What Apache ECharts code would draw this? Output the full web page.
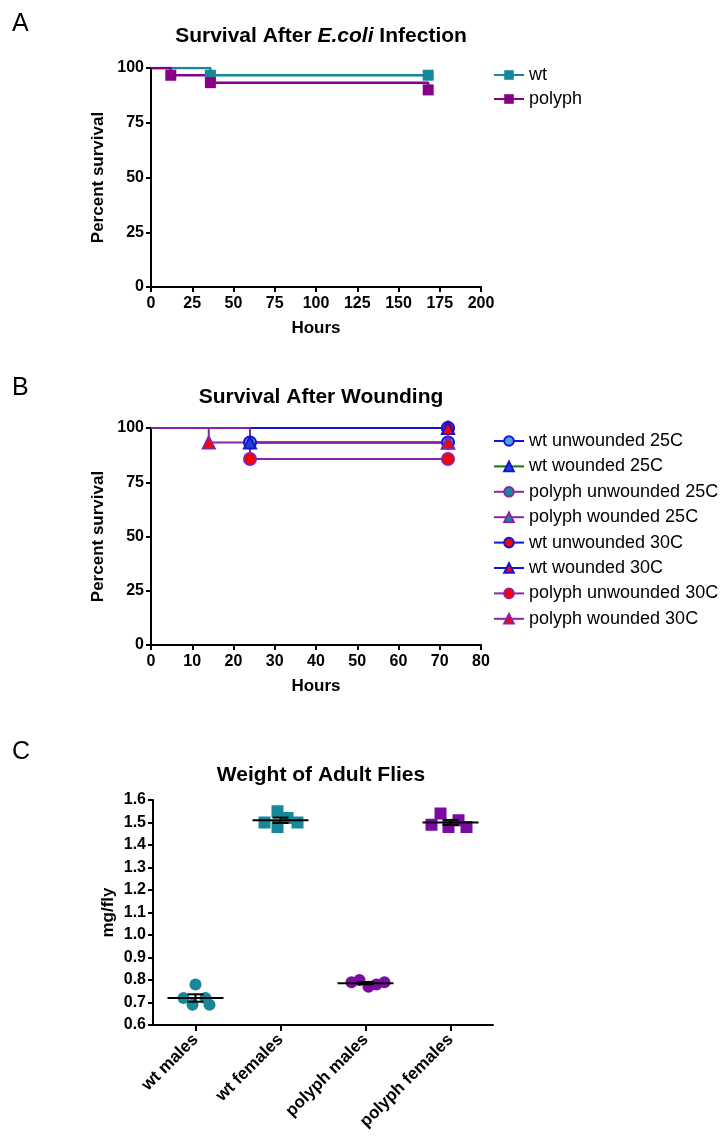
<!DOCTYPE html>
<html>
<head>
<meta charset="utf-8">
<script src="https://cdn.jsdelivr.net/npm/echarts@6/dist/echarts.min.js"></script>
<style>
  html, body { margin: 0; padding: 0; background: #fff; }
  #chart { width: 725px; height: 1137px; }
</style>
</head>
<body>
<div id="chart"></div>
<script>
'use strict';

// Panel A: survival after E.coli infection (hours, percent)
const aNames = ['wt', 'polyph'];
const aTimes = [[0, 36, 168], [0, 12, 36, 168]];
const aSurvival = [[100, 96.7, 96.7], [100, 96.7, 93.3, 90]];

// Panel B: survival after wounding
const bNames = [
  'wt unwounded 25C', 'wt wounded 25C', 'polyph unwounded 25C', 'polyph wounded 25C',
  'wt unwounded 30C', 'wt wounded 30C', 'polyph unwounded 30C', 'polyph wounded 30C'
];
const bTimes = [[0, 24, 72], [0, 24, 72], [0, 72], [0, 72], [0, 72], [0, 72], [0, 24, 72], [0, 14, 72]];
const bSurvival = [
  [100, 93.3, 93.3], [100, 93.3, 93.3], [100, 100], [100, 100],
  [100, 100], [100, 100], [100, 85.7, 85.7], [100, 93.3, 93.3]
];

// Panel C: weight of adult flies (mg/fly)
const groups = ['wt males', 'wt females', 'polyph males', 'polyph females'];
const wtMales = [0.78, 0.72, 0.72, 0.69, 0.69];
const wtFemales = [1.50, 1.55, 1.48, 1.52, 1.50];
const polyphMales = [0.79, 0.80, 0.77, 0.78, 0.79];
const polyphFemales = [1.49, 1.54, 1.48, 1.51, 1.48];
const weights = [wtMales, wtFemales, polyphMales, polyphFemales];

// styles
const FONT = 'Liberation Sans';
const TEAL = '#17879a';
const PURPLE_A = '#870087';
const PURPLE_C = '#7a0ca2';
const BLUE = '#1414d2';
const GREEN = '#0a7a0a';
const PURPLE_B = '#8c22aa';
const RED = '#ff0000';
const LIGHTBLUE = '#4f9fe0';

const bStyle = [
  {line: BLUE, fill: LIGHTBLUE, border: BLUE, symbol: 'circle'},
  {line: GREEN, fill: '#2244cc', border: BLUE, symbol: 'triangle'},
  {line: PURPLE_B, fill: TEAL, border: PURPLE_B, symbol: 'circle'},
  {line: PURPLE_B, fill: TEAL, border: PURPLE_B, symbol: 'triangle'},
  {line: BLUE, fill: RED, border: BLUE, symbol: 'circle'},
  {line: BLUE, fill: RED, border: BLUE, symbol: 'triangle'},
  {line: PURPLE_B, fill: RED, border: PURPLE_B, symbol: 'circle'},
  {line: PURPLE_B, fill: RED, border: PURPLE_B, symbol: 'triangle'}
];
// horizontal spread of the dots in each column (px)
const spread = [[0, -12, 10, -3, 14], [-16, -3, -3, 7, 17], [-14, -6, 3, 11, 19], [-19, -10, -2, 8, 16]];

const axisLine = {show: true, lineStyle: {color: '#000', width: 2}};
const axisTick = {show: true, length: 5, lineStyle: {color: '#000', width: 2}};
const tickFont = {color: '#000', fontFamily: FONT, fontWeight: 'bold', fontSize: 16};
const nameFont = {color: '#000', fontFamily: FONT, fontWeight: 'bold', fontSize: 17};
const legendFont = {fontFamily: FONT, fontSize: 18, color: '#000'};

function steps(times, vals) {
  return times.map((t, i) => i === 0 ? {value: [t, vals[i]], symbol: 'none'} : [t, vals[i]]);
}
const mean = a => a.reduce((s, v) => s + v, 0) / a.length;
const sem = a => {
  const m = mean(a);
  return Math.sqrt(a.reduce((s, v) => s + (v - m) * (v - m), 0) / (a.length - 1)) / Math.sqrt(a.length);
};

const series = [];
aNames.forEach((n, i) => {
  const c = i === 0 ? TEAL : PURPLE_A;
  series.push({
    name: n, type: 'line', step: 'end', xAxisIndex: 0, yAxisIndex: 0,
    data: steps(aTimes[i], aSurvival[i]),
    symbol: 'rect', symbolSize: 11, showAllSymbol: true,
    lineStyle: {color: c, width: 2.5}, itemStyle: {color: c}
  });
});
bNames.forEach((n, i) => {
  const s = bStyle[i];
  series.push({
    name: n, type: 'line', step: 'end', xAxisIndex: 1, yAxisIndex: 1,
    data: steps(bTimes[i], bSurvival[i]),
    symbol: s.symbol, symbolSize: 12, showAllSymbol: true,
    lineStyle: {color: s.line, width: 2},
    itemStyle: {color: s.fill, borderColor: s.border, borderWidth: 2}
  });
});
weights.forEach((vals, g) => {
  series.push({
    name: groups[g], type: 'scatter', xAxisIndex: 2, yAxisIndex: 2,
    symbol: g % 2 === 0 ? 'circle' : 'rect', symbolSize: 12,
    itemStyle: {color: g < 2 ? TEAL : PURPLE_C, opacity: 1},
    data: vals.map((v, k) => ({value: [g, v], symbolOffset: [spread[g][k], 0]}))
  });
});
series.push({
  name: 'mean', type: 'custom', xAxisIndex: 2, yAxisIndex: 2, z: 5,
  data: weights.map((vals, g) => [g, mean(vals), sem(vals)]),
  renderItem: (params, api) => {
    const g = api.value(0), m = api.value(1), e = api.value(2);
    const c = api.coord([g, m]);
    const hi = api.coord([g, m + e]), lo = api.coord([g, m - e]);
    const st = {stroke: '#000', lineWidth: 2};
    return {type: 'group', children: [
      {type: 'line', shape: {x1: c[0] - 28, y1: c[1], x2: c[0] + 28, y2: c[1]}, style: st},
      {type: 'line', shape: {x1: c[0], y1: hi[1], x2: c[0], y2: lo[1]}, style: st},
      {type: 'line', shape: {x1: c[0] - 8, y1: hi[1], x2: c[0] + 8, y2: hi[1]}, style: st},
      {type: 'line', shape: {x1: c[0] - 8, y1: lo[1], x2: c[0] + 8, y2: lo[1]}, style: st}
    ]};
  }
});

const letter = (t, top) => ({text: t, left: 7, top: top,
  textStyle: {fontFamily: FONT, fontWeight: 'normal', fontSize: 25, color: '#000'}});
const heading = (t, top) => ({text: t, left: 316, top: top, textAlign: 'center',
  textStyle: {fontFamily: FONT, fontWeight: 'bold', fontSize: 21, color: '#000',
    rich: {i: {fontFamily: FONT, fontWeight: 'bold', fontStyle: 'italic', fontSize: 21, color: '#000'}}}});

const valueX = (idx, max, step) => ({
  type: 'value', gridIndex: idx, min: 0, max: max, interval: step,
  name: 'Hours', nameLocation: 'middle', nameGap: 33, nameTextStyle: nameFont,
  axisLine: axisLine, axisTick: axisTick, splitLine: {show: false},
  axisLabel: Object.assign({margin: 9}, tickFont)
});
const percentY = idx => ({
  type: 'value', gridIndex: idx, min: 0, max: 100, interval: 25,
  name: 'Percent survival', nameLocation: 'middle', nameGap: 44, nameTextStyle: nameFont,
  axisLine: axisLine, axisTick: axisTick, splitLine: {show: false},
  axisLabel: Object.assign({margin: 7}, tickFont)
});

const chart = echarts.init(document.getElementById('chart'), null, {renderer: 'canvas'});
chart.setOption({
  animation: false,
  backgroundColor: '#fff',
  title: [
    letter('A', 7), letter('B', 371), letter('C', 735),
    heading('Survival After {i|E.coli} Infection', 21),
    heading('Survival After Wounding', 382),
    heading('Weight of Adult Flies', 760)
  ],
  legend: [
    {data: aNames, left: 493, top: 66, orient: 'vertical', itemWidth: 30, itemHeight: 12, itemGap: 6,
      padding: 0, textStyle: legendFont},
    {data: bNames, left: 493, top: 432, orient: 'vertical', itemWidth: 30, itemHeight: 12, itemGap: 7.4,
      padding: 0, textStyle: legendFont}
  ],
  grid: [
    {left: 151, top: 68, width: 330, height: 219},
    {left: 151, top: 428, width: 330, height: 217},
    {left: 153, top: 800, width: 340, height: 225}
  ],
  xAxis: [
    valueX(0, 200, 25),
    valueX(1, 80, 10),
    {type: 'category', gridIndex: 2, data: groups, boundaryGap: true,
      axisLine: axisLine, axisTick: Object.assign({alignWithLabel: true}, axisTick, {length: 6}),
      axisLabel: Object.assign({rotate: 45, interval: 0, margin: 12}, tickFont, {fontSize: 17})}
  ],
  yAxis: [
    percentY(0),
    percentY(1),
    {type: 'value', gridIndex: 2, min: 0.6, max: 1.6, interval: 0.1,
      name: 'mg/fly', nameLocation: 'middle', nameGap: 36, nameTextStyle: nameFont,
      axisLine: axisLine, axisTick: axisTick, splitLine: {show: false},
      axisLabel: Object.assign({margin: 7, formatter: v => v.toFixed(1)}, tickFont)}
  ],
  series: series
});
</script>
</body>
</html>
